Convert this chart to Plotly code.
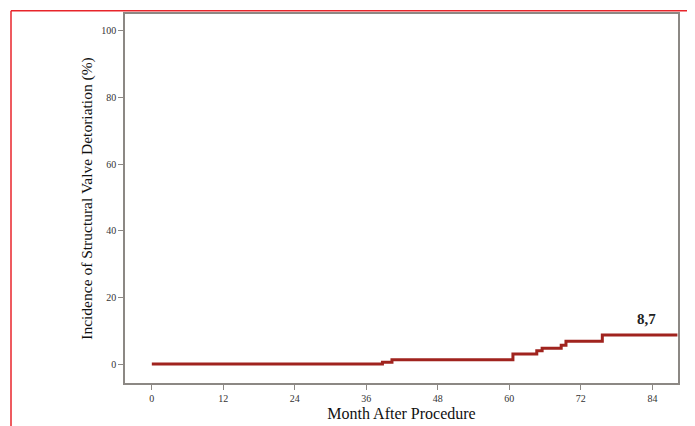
import plotly.graph_objects as go

months = [0, 38.7, 40.3, 60.6, 64.6, 65.5, 68.7, 69.5, 75.6, 88.2]
incidence = [0, 0.5, 1.3, 3.0, 4.0, 4.7, 5.6, 6.8, 8.7, 8.7]
x_ticks = [0, 12, 24, 36, 48, 60, 72, 84]
y_ticks = [0, 20, 40, 60, 80, 100]
end_label = "8,7"
end_label_pos = (83, 8.7)

W, H = 695, 426
OFF = 8  # page body margin in the browser
ml, mr, mt, mb = 125 - OFF, 17 + OFF, 12 - OFF, 43 + OFF
pw, ph = W - ml - mr, H - mt - mb

def px(xs):
    return (xs - OFF - ml) / pw

def py(ys):
    return 1 - (ys - OFF - mt) / ph

fig = go.Figure()
fig.add_trace(go.Scatter(
    x=months, y=incidence, mode="lines", line_shape="hv",
    line=dict(color="#a0231e", width=3), hoverinfo="skip", showlegend=False,
))

fig.add_annotation(
    x=end_label_pos[0], y=end_label_pos[1], text="<b>" + end_label + "</b>",
    showarrow=False, yshift=6, xanchor="center", yanchor="bottom",
    font=dict(family="Liberation Serif", size=15, color="#222"),
)

frame_color = "#8c8884"
tickfont = dict(family="Liberation Serif", size=10, color="#333")
fig.update_xaxes(
    range=[-4.5, 88.3], tickvals=x_ticks, ticks="outside", ticklen=5,
    tickcolor=frame_color, tickfont=tickfont, showline=True, linecolor=frame_color,
    linewidth=1.5, mirror=True, showgrid=False, zeroline=False,
    title=dict(text="Month After Procedure", standoff=5,
               font=dict(family="Liberation Serif", size=16, color="#111")),
)
fig.update_yaxes(
    range=[-5.7, 105], tickvals=y_ticks, ticks="outside", ticklen=5,
    tickcolor=frame_color, tickfont=tickfont, showline=True, linecolor=frame_color,
    linewidth=1.5, mirror=True, showgrid=False, zeroline=False,
    title=dict(text="Incidence of Structural Valve Detoriation (%)", standoff=5,
               font=dict(family="Liberation Serif", size=15.5, color="#111")),
)

# red page border
red = dict(color="#e8252b", width=1.5)
top = py(OFF + 0.8)
fig.add_shape(type="line", xref="paper", yref="paper", x0=px(11), x1=px(11), y0=top, y1=py(460), line=red)
fig.add_shape(type="line", xref="paper", yref="paper", x0=px(689), x1=px(689), y0=top, y1=py(460), line=red)
fig.add_shape(type="line", xref="paper", yref="paper", x0=px(11), x1=px(689), y0=top, y1=top, line=red)

fig.update_layout(
    width=W, height=H, margin=dict(l=ml, r=mr, t=mt, b=mb),
    paper_bgcolor="white", plot_bgcolor="white",
)

fig.write_html("out.html")
